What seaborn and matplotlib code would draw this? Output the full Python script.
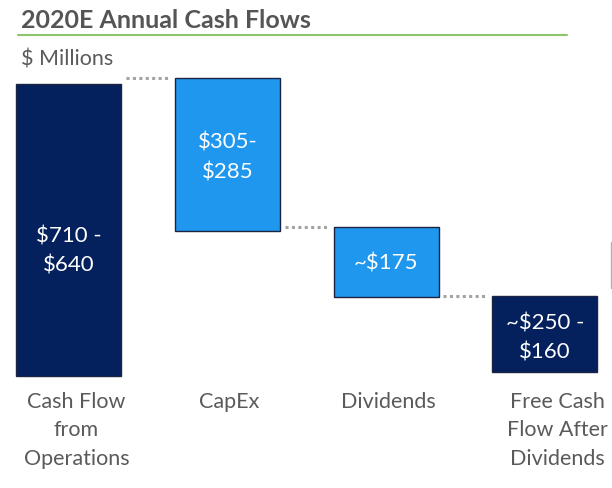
import matplotlib
matplotlib.use("Agg")
import matplotlib.pyplot as plt
from matplotlib.lines import Line2D
import seaborn as sns
import pandas as pd
import numpy as np

# ---- data ----
categories = ["Cash Flow\nfrom\nOperations", "CapEx", "Dividends", "Free Cash\nFlow After\nDividends"]
bar_top = [675, 690, 345, 185]
bar_bottom = [0, 335, 183, 9]
value_labels = ["$710 -\n$640", "$305-\n$285", "~$175", "~$250 -\n$160"]
title = "2020E Annual Cash Flows"
unit_label = "$ Millions"

# ---- style ----
NAVY = "#04215e"
BLUE = "#1f97ef"
colors = [NAVY, BLUE, BLUE, NAVY]
GREY = "#5a5a5a"
value_label_dy_px = [20, 2, 1, 3]
cat_label_dx_px = [8, 2, 2, 12]

sns.set_theme(style="white")
plt.rcParams["font.family"] = ["Lato", "DejaVu Sans"]

W, H = 612, 489
fig = plt.figure(figsize=(W / 100, H / 100), dpi=100)
ax = fig.add_axes([0, 0, 1, 1])

# pixel mapping for layout
x0px, dx = 68.5, 158.83
base, k = 377.0, 0.4326
bar_w = 0.661


def ypx(p):
    return (base - p) / k


df = pd.DataFrame({"category": categories,
                   "height": np.array(bar_top) - np.array(bar_bottom)})
sns.barplot(data=df, x="category", y="height", hue="category", palette=colors,
            legend=False, width=bar_w, edgecolor="#1b2440", linewidth=1,
            saturation=1, ax=ax)
for patch, b in zip(ax.patches, bar_bottom):
    patch.set_y(b)

ax.set_xlim(-x0px / dx, (W - x0px) / dx)
ax.set_ylim((base - H) / k, base / k)
ax.set_axis_off()

# connectors
gap = 0.03
for i in range(len(categories) - 1):
    ax.plot([i + bar_w / 2 + gap, i + 1 - bar_w / 2 - gap],
            [bar_top[i + 1]] * 2, ls=(0, (1, 1.1)), color="#a3a3a3", lw=2.2,
            solid_capstyle="butt")

# value labels
for i, lab in enumerate(value_labels):
    ax.text(i, (bar_top[i] + bar_bottom[i]) / 2 - value_label_dy_px[i] / k, lab,
            color="white", ha="center", va="center", fontsize=16,
            linespacing=1.6)

# category labels
for i, cat in enumerate(categories):
    ax.text(i + cat_label_dx_px[i] / dx, ypx(392), cat, color=GREY,
            ha="center", va="top", fontsize=15.5, linespacing=1.52)

# title & subtitle
fig.text(21 / W, 1 - 28 / H, title, fontsize=18, fontweight="bold",
         color="#555555", va="baseline", ha="left")
fig.add_artist(Line2D([18 / W, 567 / W], [1 - 36 / H] * 2, color="#8cc46c", lw=1.5))
fig.text(21 / W, 1 - 65 / H, unit_label, fontsize=15.5, color=GREY,
         va="baseline", ha="left")
fig.add_artist(Line2D([611 / W] * 2, [1 - 243 / H, 1 - 289 / H], color="#b0b0b0", lw=1))

fig.savefig("out.png", dpi=100, facecolor="white")
